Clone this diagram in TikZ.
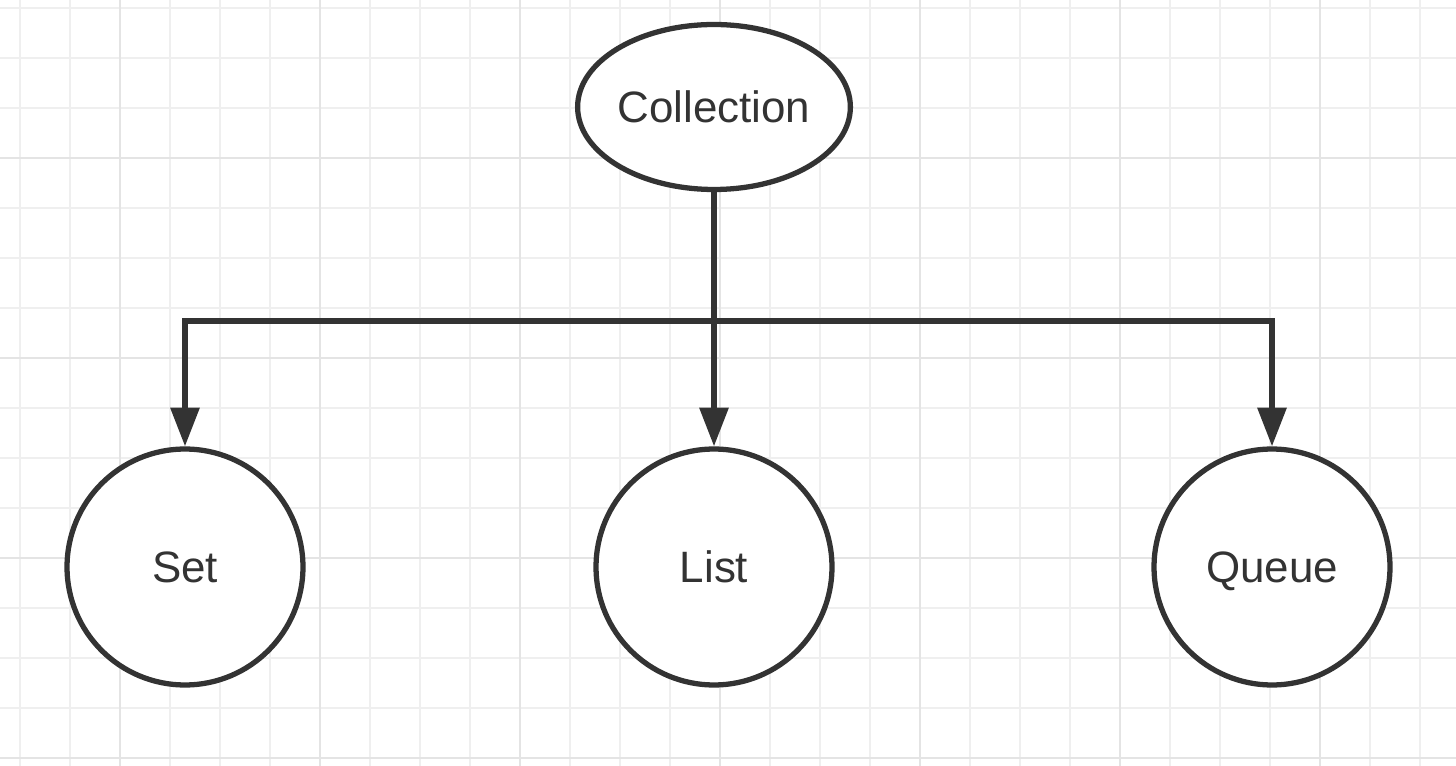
\documentclass[tikz,border=0pt]{standalone}
\usepackage{fontspec}
\setmainfont{Liberation Sans}
\usetikzlibrary{arrows.meta,shapes.geometric,positioning}
\definecolor{inkgray}{HTML}{333333}
\definecolor{gridminor}{HTML}{EFEFEF}
\definecolor{gridmajor}{HTML}{E4E4E4}

\begin{document}
\begin{tikzpicture}[x=0.02cm,y=-0.02cm]
\tikzset{
  setnode/.style={circle,draw=inkgray,line width=3pt,fill=white,minimum size=4.72cm,inner sep=0pt,text=inkgray,font=\fontsize{25}{29}\selectfont,text height=18pt,text depth=0pt},
  rootnode/.style={ellipse,draw=inkgray,line width=3pt,fill=white,minimum width=5.42cm,minimum height=3.3cm,inner sep=0pt,text=inkgray,font=\fontsize{25}{29}\selectfont,text height=18pt,text depth=0pt},
  directed/.style={-{Triangle[length=22pt,width=16pt]},draw=inkgray,line width=3.2pt},
  undirected/.style={draw=inkgray,line width=3.2pt}
}
\useasboundingbox (0,0) rectangle (1456,766);
\fill[white] (0,0) rectangle (1456,766);
% grid
\foreach \gx in {20,70,...,1420}
  \draw[gridminor,line width=0.9pt] (\gx,0) -- (\gx,766);
\foreach \gy in {8,58,...,758}
  \draw[gridminor,line width=0.9pt] (0,\gy) -- (1456,\gy);
\foreach \gx in {120,320,...,1320}
  \draw[gridmajor,line width=0.9pt] (\gx,0) -- (\gx,766);
\foreach \gy in {158,358,558,758}
  \draw[gridmajor,line width=0.9pt] (0,\gy) -- (1456,\gy);
% nodes
\node[rootnode] (n_coll) at (714,107) {Collection};
\node[setnode] (n_set) at (185,567) {Set};
\node[setnode] (n_list) at (714,567) {List};
\node[setnode] (n_queue) at (1272,567) {Queue};
\coordinate (j_mid) at (714,321);
% edges
\draw[undirected] (n_coll.south) -- (j_mid);
\draw[directed] (j_mid) -| (n_set.north);
\draw[directed] (j_mid) -| (n_queue.north);
\draw[directed] (j_mid) -- (n_list.north);
\end{tikzpicture}
\end{document}
